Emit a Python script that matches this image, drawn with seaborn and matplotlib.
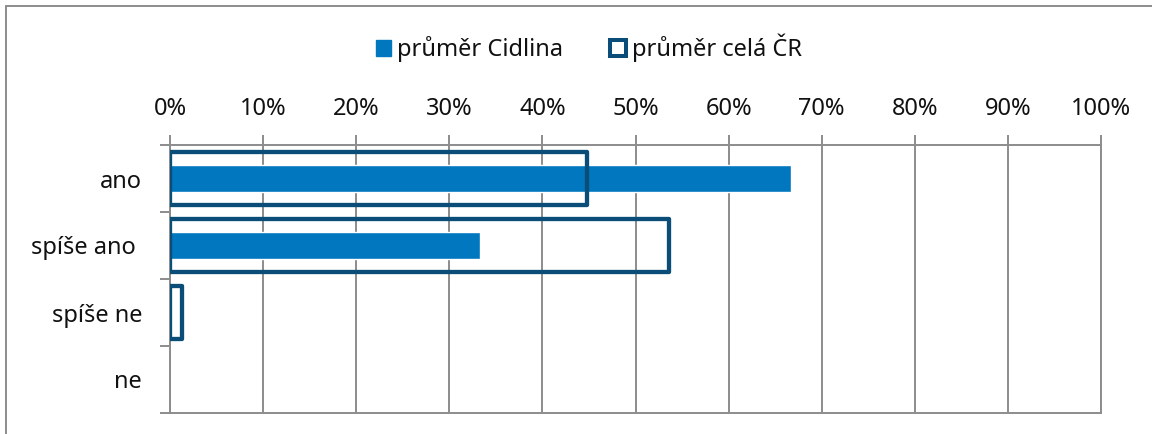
import numpy as np
import pandas as pd
import seaborn as sns
import matplotlib.pyplot as plt
from matplotlib.patches import Patch
from matplotlib.lines import Line2D
from matplotlib.ticker import FixedLocator

categories = ["ano", "spíše ano ", "spíše ne", "ne"]
cidlina = [66.7, 33.3, 0.0, 0.0]
cela_cr = [44.8, 53.6, 1.3, 0.0]
xticks = list(range(0, 101, 10))

fill_col = "#0077be"
edge_col = "#0b4d79"
grid_col = "#8c8c8c"
text_col = "#111111"

sns.set_theme(style="white")
plt.rcParams["font.family"] = ["Noto Sans", "DejaVu Sans"]

df = pd.DataFrame({"kat": categories, "cidlina": cidlina, "cr": cela_cr})

fig = plt.figure(figsize=(11.52, 4.34), dpi=100)
ax = fig.add_axes([170 / 1152, 1 - 413 / 434, (1101 - 170) / 1152, (413 - 145) / 434])

sns.barplot(data=df, y="kat", x="cidlina", orient="h", color=fill_col,
            width=0.39, saturation=1, ax=ax, zorder=3)
sns.barplot(data=df, y="kat", x="cr", orient="h", fill=False, color=edge_col,
            width=0.79, linewidth=3.1, saturation=1, ax=ax, zorder=4)
for p in ax.patches[len(categories):]:
    p.set_edgecolor(edge_col)
    p.set_facecolor("none")
    p.set_joinstyle("round")
for p in ax.patches:
    if p.get_width() == 0:
        p.set_visible(False)

ax.set_xlim(0, 100)
ax.set_ylim(len(categories) - 0.5, -0.5)
ax.set_xticks(xticks)
ax.set_xticklabels([f"{t}%" for t in xticks])
ax.xaxis.tick_top()
ax.tick_params(axis="x", length=7, width=1.4, color=grid_col, pad=10,
               labelsize=17, labelcolor=text_col, top=True, bottom=False)
ax.grid(axis="x", color=grid_col, linewidth=1.4, zorder=0)
ax.set_axisbelow(True)

ax.yaxis.set_minor_locator(FixedLocator(np.arange(-0.5, len(categories), 1)))
ax.tick_params(axis="y", which="major", length=0, pad=20, labelsize=17,
               labelcolor=text_col)
ax.tick_params(axis="y", which="minor", length=7, width=1.4, color=grid_col, left=True)
ax.set_xlabel("")
ax.set_ylabel("")
for s in ax.spines.values():
    s.set_color(grid_col)
    s.set_linewidth(1.4)

handles = [Patch(facecolor=fill_col, edgecolor=fill_col, label="průměr Cidlina"),
           Patch(facecolor="white", edgecolor=edge_col, linewidth=2.9, label="průměr celá ČR")]
fig.legend(handles=handles, loc="center", bbox_to_anchor=(0.511, 1 - 48 / 434), ncol=2,
           frameon=False, fontsize=17, handlelength=0.65, handleheight=0.65,
           handletextpad=0.25, columnspacing=2.0, labelcolor=text_col)

# chart frame (left and top edges visible)
fig.add_artist(Line2D([6 / 1152, 6 / 1152], [0, 1 - 6 / 434], transform=fig.transFigure,
                      color=grid_col, linewidth=1.4))
fig.add_artist(Line2D([6 / 1152, 1], [1 - 6 / 434, 1 - 6 / 434], transform=fig.transFigure,
                      color=grid_col, linewidth=1.4))

fig.savefig("out.png", dpi=100)
